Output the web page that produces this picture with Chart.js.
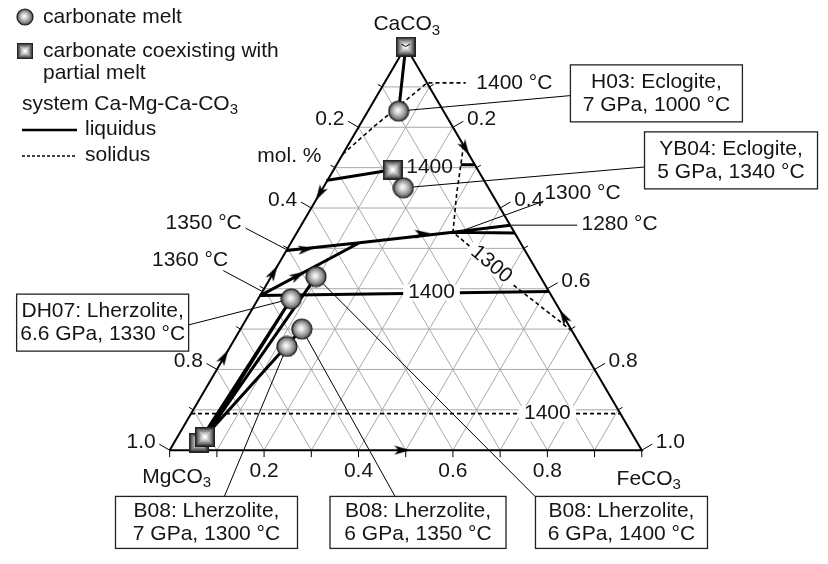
<!DOCTYPE html>
<html>
<head>
<meta charset="UTF-8">
<script src="https://cdn.jsdelivr.net/npm/chart.js"></script>
<style>
  html, body { margin: 0; padding: 0; background: #fff; }
  .chart-container { position: relative; width: 828px; height: 564px; }
</style>
</head>
<body>
<div class="chart-container"><canvas id="ternaryChart"></canvas></div>
<script>
// compositions are [FeCO3, CaCO3] mole fractions, MgCO3 is the rest
const meltPoints = [[0.065, 0.84], [0.17, 0.65], [0.07, 0.375], [0.095, 0.43], [0.13, 0.30], [0.12, 0.257]];
const partialMeltPoints = [[0, 1], [0.125, 0.695], [0.052, 0.019], [0.058, 0.033]];

const tieLines = [
  [[0, 1], [0.065, 0.84]],
  [[0, 0.669], [0.125, 0.695]],
  [[0.052, 0.019], [0.07, 0.375]],
  [[0.058, 0.033], [0.07, 0.375]],
  [[0.058, 0.033], [0.095, 0.43]],
  [[0.058, 0.033], [0.13, 0.30]]
];
const liquidusLines = [
  [[0, 0.495], [0.145, 0.514], [0.33, 0.54], [0.443, 0.557]],
  [[0.33, 0.54], [0.462, 0.538]],
  [[0, 0.383], [0.145, 0.514]],
  [[0, 0.383], [0.607, 0.393]],
  [[0.263, 0.707], [0.293, 0.707]]
];
const solidusLines = [
  [[0, 0.733], [0.031, 0.80], [0.09, 0.91], [0.172, 0.91]],
  [[0.245, 0.755], [0.29, 0.636], [0.33, 0.54], [0.394, 0.498], [0.511, 0.417], [0.705, 0.295]],
  [[0, 0.0905], [0.9095, 0.0905]]
];
const leaderLines = [
  [[0.065, 0.84], [0.414, 0.879]],
  [[0.17, 0.65], [0.659, 0.702]],
  [[-0.114, 0.55], [-0.003, 0.498]],
  [[-0.109, 0.445], [0, 0.393]],
  [[-0.116, 0.31], [0.07, 0.375]],
  [[0.4835, 0.617], [0.35, 0.545]],
  [[0.12, 0.257], [0.174, -0.121]],
  [[0.13, 0.30], [0.541, -0.121]],
  [[0.095, 0.43], [0.84, -0.121]]
];
const leader1280 = [[0.443, 0.557], [0.585, 0.557]];

// arrow heads: where they sit and which way they point
const arrowAt = [[0, 0.636], [0, 0.44], [0, 0.231], [0.252, 0.748], [0.669, 0.331], [0.493, 0], [0.04, 0.498], [0.268, 0.536], [0.0555, 0.433]];
const arrowToward = [[0, 0], [0, 1], [0, 1], [1, 0], [0, 1], [1, 0], [0.145, 0.514], [0.33, 0.54], [0.145, 0.514]];

const gridSteps = [0.1, 0.2, 0.3, 0.4, 0.5, 0.6, 0.7, 0.8, 0.9];
const edgeSteps = [0, 0.1, 0.2, 0.3, 0.4, 0.5, 0.6, 0.7, 0.8, 0.9, 1.0];
const baseTicks = [0.2, 0.4, 0.6, 0.8];
const leftTicks = [0.2, 0.4, 0.8, 1.0];
const rightTicks = [0.2, 0.4, 0.6, 0.8, 1.0];

const boxTexts = [
  ['H03: Eclogite,', '7 GPa, 1000 °C'],
  ['YB04: Eclogite,', '5 GPa, 1340 °C'],
  ['DH07: Lherzolite,', '6.6 GPa, 1330 °C'],
  ['B08: Lherzolite,', '7 GPa, 1300 °C'],
  ['B08: Lherzolite,', '6 GPa, 1350 °C'],
  ['B08: Lherzolite,', '6 GPa, 1400 °C']
];
const tempTexts = ['1400 °C', '1400', '1300 °C', '1280 °C', '1350 °C', '1360 °C', '1400', '1400', '1300', 'mol. %'];

// layout (chart units) for the annotations
const boxLayout = [
  {x: 1.031, y: 0.884, w: 172, h: 57},
  {x: 1.189, y: 0.718, w: 173, h: 57},
  {x: -0.142, y: 0.316, w: 172, h: 57},
  {x: 0.078, y: -0.179, w: 182, h: 52},
  {x: 0.526, y: -0.179, w: 176, h: 52},
  {x: 0.957, y: -0.179, w: 172, h: 52}
];
const tempLayout = [
  {x: 0.6495, y: 0.9095, align: 'left'},
  {x: 0.5505, y: 0.70, align: 'center'},
  {x: 0.7938, y: 0.6357, align: 'left'},
  {x: 0.8722, y: 0.5595, align: 'left'},
  {x: 0.1526, y: 0.5619, align: 'right'},
  {x: 0.1237, y: 0.4714, align: 'right'},
  {x: 0.5546, y: 0.3905, align: 'center', bg: true},
  {x: 0.80, y: 0.0905, align: 'center', bg: true},
  {x: 0.6814, y: 0.4607, align: 'center', bg: true, rot: 40},
  {x: 0.1856, y: 0.7286, align: 'left'}
];

const FONT = '21px "Liberation Sans", Arial, sans-serif';
const SUB_FONT = '15px "Liberation Sans", Arial, sans-serif';
const INK = '#151515';

const cart = ([fe, ca]) => ({x: fe + ca / 2, y: ca});
const joinPaths = (paths) => paths.flatMap((p, i) => (i ? [{x: NaN, y: NaN}] : []).concat(p.map(cart)));

const gridPaths = gridSteps.flatMap(v => [
  [[0, v], [1 - v, v]],
  [[v, 0], [v, 1 - v]],
  [[1 - v, 0], [0, 1 - v]]
]);
const trianglePath = [[0, 0], [1, 0], [0, 1], [0, 0]];

function sphere(d) {
  const c = document.createElement('canvas');
  c.width = c.height = d + 2;
  const g = c.getContext('2d'), m = (d + 2) / 2, r = d / 2;
  const grad = g.createRadialGradient(m - 1, m - 1, 0, m, m, r);
  grad.addColorStop(0, '#ffffff');
  grad.addColorStop(0.3, '#dadada');
  grad.addColorStop(0.75, '#8a8a8a');
  grad.addColorStop(1, '#3a3a3a');
  g.fillStyle = grad;
  g.beginPath(); g.arc(m, m, r, 0, Math.PI * 2); g.fill();
  g.lineWidth = 1.2; g.strokeStyle = '#1e1e1e'; g.stroke();
  return c;
}
function block(d) {
  const c = document.createElement('canvas');
  c.width = c.height = d;
  const g = c.getContext('2d');
  const shades = ['#222', '#5e5e5e', '#8c8c8c', '#b4b4b4', '#dcdcdc', '#fff'];
  shades.forEach((s, i) => {
    const k = i * d / 12;
    g.fillStyle = s;
    g.fillRect(k, k, d - 2 * k, d - 2 * k);
  });
  return c;
}
function arrowHead() {
  const c = document.createElement('canvas');
  c.width = 16; c.height = 10;
  const g = c.getContext('2d');
  g.fillStyle = '#000';
  g.beginPath(); g.moveTo(16, 5); g.lineTo(0, 0.5); g.lineTo(4, 5); g.lineTo(0, 9.5); g.closePath(); g.fill();
  return c;
}
const sphereImg = sphere(20), blockImg = block(20), arrowImg = arrowHead();
const sphereSmall = sphere(16), blockSmall = block(16);

function drawRich(ctx, s, x, y, align) {
  const segs = [];
  for (let i = 0; i < s.length; i++) {
    if (s[i] === '_') { segs.push({t: s[i + 1], sub: true}); i++; }
    else if (segs.length && !segs[segs.length - 1].sub) segs[segs.length - 1].t += s[i];
    else segs.push({t: s[i], sub: false});
  }
  let w = 0;
  segs.forEach(g => { ctx.font = g.sub ? SUB_FONT : FONT; g.w = ctx.measureText(g.t).width; w += g.w; });
  let cx = align === 'center' ? x - w / 2 : align === 'right' ? x - w : x;
  ctx.textAlign = 'left';
  ctx.textBaseline = 'middle';
  segs.forEach(g => {
    ctx.font = g.sub ? SUB_FONT : FONT;
    ctx.fillText(g.t, cx, g.sub ? y + 6 : y);
    cx += g.w;
  });
  ctx.font = FONT;
  return w;
}

const lineDs = (paths, opts) => Object.assign({
  data: joinPaths(paths), showLine: true, pointRadius: 0, pointHoverRadius: 0,
  borderColor: '#000', backgroundColor: '#000', borderWidth: 1, fill: false, spanGaps: false
}, opts);

const annotate = {
  id: 'annotate',
  afterDatasetsDraw(chart) {
    const {ctx} = chart;
    const xs = chart.scales.x, ys = chart.scales.y;
    const P = (t) => { const c = cart(t); return [xs.getPixelForValue(c.x), ys.getPixelForValue(c.y)]; };
    const Q = (o) => [xs.getPixelForValue(o.x), ys.getPixelForValue(o.y)];
    ctx.save();
    ctx.fillStyle = INK;
    ctx.strokeStyle = '#000';
    ctx.font = FONT;

    // edge ticks and tick labels
    const tick = (p, n, len) => {
      ctx.beginPath(); ctx.moveTo(p[0], p[1]); ctx.lineTo(p[0] + n[0] * len, p[1] + n[1] * len); ctx.stroke();
    };
    ctx.lineWidth = 1;
    const nL = [-0.866, -0.5], nR = [0.866, -0.5], nB = [0, 1];
    edgeSteps.forEach(v => {
      const b = P([v, 0]);
      tick(b, nB, 7);
      const l = P([0, 1 - v]);
      tick(l, nL, leftTicks.includes(+v.toFixed(1)) ? 12 : 5);
      const r = P([v, 1 - v]);
      tick(r, nR, rightTicks.includes(+v.toFixed(1)) ? 12 : 5);
    });
    baseTicks.forEach(v => { const b = P([v, 0]); drawRich(ctx, v.toFixed(1), b[0], b[1] + 21, 'center'); });
    leftTicks.forEach(v => { const l = P([0, 1 - v]); drawRich(ctx, v.toFixed(1), l[0] - 14, l[1] - 8, 'right'); });
    rightTicks.forEach(v => { const r = P([v, 1 - v]); drawRich(ctx, v.toFixed(1), r[0] + 14, r[1] - 8, 'left'); });

    // corner names
    const top = P([0, 1]), mg = P([0, 0]), fe = P([1, 0]);
    drawRich(ctx, 'CaCO_3', top[0] + 1, top[1] - 22, 'center');
    drawRich(ctx, 'MgCO_3', mg[0] + 7, mg[1] + 27, 'center');
    drawRich(ctx, 'FeCO_3', fe[0] + 7, fe[1] + 29, 'center');

    // temperature and other labels
    tempTexts.forEach((s, i) => {
      const o = tempLayout[i];
      const [px, py] = Q(o);
      ctx.save();
      ctx.translate(px, py);
      if (o.rot) ctx.rotate(o.rot * Math.PI / 180);
      if (o.bg) {
        const w = ctx.measureText(s).width;
        ctx.fillStyle = '#fff';
        ctx.fillRect(-w / 2 - 5, -8, w + 10, 16);
        ctx.fillStyle = INK;
      }
      drawRich(ctx, s, 0, 0, o.align);
      ctx.restore();
    });

    // boxed sample labels
    boxTexts.forEach((lines, i) => {
      const o = boxLayout[i];
      const [cx, cy] = Q(o);
      ctx.fillStyle = '#fff';
      ctx.fillRect(cx - o.w / 2, cy - o.h / 2, o.w, o.h);
      ctx.lineWidth = 1.3;
      ctx.strokeStyle = '#222';
      ctx.strokeRect(cx - o.w / 2, cy - o.h / 2, o.w, o.h);
      ctx.fillStyle = INK;
      drawRich(ctx, lines[0], cx, cy - 11, 'center');
      drawRich(ctx, lines[1], cx, cy + 12, 'center');
    });

    // legend
    ctx.drawImage(sphereSmall, 25 - sphereSmall.width / 2, 17 - sphereSmall.height / 2);
    drawRich(ctx, 'carbonate melt', 43, 17, 'left');
    ctx.drawImage(blockSmall, 25 - blockSmall.width / 2, 51 - blockSmall.height / 2);
    drawRich(ctx, 'carbonate coexisting with', 43, 51, 'left');
    drawRich(ctx, 'partial melt', 43, 73, 'left');
    drawRich(ctx, 'system Ca-Mg-Ca-CO_3', 22, 104, 'left');
    ctx.strokeStyle = '#000';
    ctx.lineWidth = 2.5;
    ctx.beginPath(); ctx.moveTo(22, 130); ctx.lineTo(77, 130); ctx.stroke();
    drawRich(ctx, 'liquidus', 85, 129, 'left');
    ctx.lineWidth = 1.5;
    ctx.setLineDash([3, 2]);
    ctx.beginPath(); ctx.moveTo(22, 156); ctx.lineTo(77, 156); ctx.stroke();
    ctx.setLineDash([]);
    drawRich(ctx, 'solidus', 85, 155, 'left');
    ctx.restore();
  }
};

new Chart(document.getElementById('ternaryChart'), {
  type: 'scatter',
  data: {
    datasets: [
      lineDs(gridPaths, {borderColor: '#a8a8a8', borderWidth: 1, order: 9}),
      lineDs([trianglePath], {borderWidth: 2, order: 8}),
      lineDs(solidusLines, {borderWidth: 1.6, borderDash: [4, 3], order: 7}),
      lineDs([leader1280], {borderColor: '#555', borderWidth: 1.5, order: 6}),
      lineDs(leaderLines, {borderWidth: 1, order: 6}),
      lineDs(liquidusLines, {borderWidth: 3, order: 5}),
      lineDs(tieLines, {borderWidth: 3, order: 5, borderCapStyle: 'round'}),
      {
        data: arrowAt.map(cart), pointStyle: arrowImg, pointRadius: 6, order: 4,
        pointRotation: (c) => {
          const p = cart(arrowAt[c.dataIndex]), q = cart(arrowToward[c.dataIndex]);
          const xs = c.chart.scales.x, ys = c.chart.scales.y;
          const dx = xs.getPixelForValue(q.x) - xs.getPixelForValue(p.x);
          const dy = ys.getPixelForValue(q.y) - ys.getPixelForValue(p.y);
          return Math.atan2(dy, dx) * 180 / Math.PI;
        }
      },
      {data: partialMeltPoints.map(cart), pointStyle: blockImg, pointRadius: 10, order: 3},
      {data: meltPoints.map(cart), pointStyle: sphereImg, pointRadius: 10, order: 2}
    ]
  },
  options: {
    animation: false,
    responsive: true,
    maintainAspectRatio: false,
    events: [],
    layout: {padding: 0},
    plugins: {legend: {display: false}, tooltip: {enabled: false}},
    scales: {
      x: {type: 'linear', display: false, min: -163 / 485, max: 665 / 485},
      y: {type: 'linear', display: false, min: -107 / 420, max: 457 / 420}
    }
  },
  plugins: [annotate]
});
</script>
</body>
</html>
